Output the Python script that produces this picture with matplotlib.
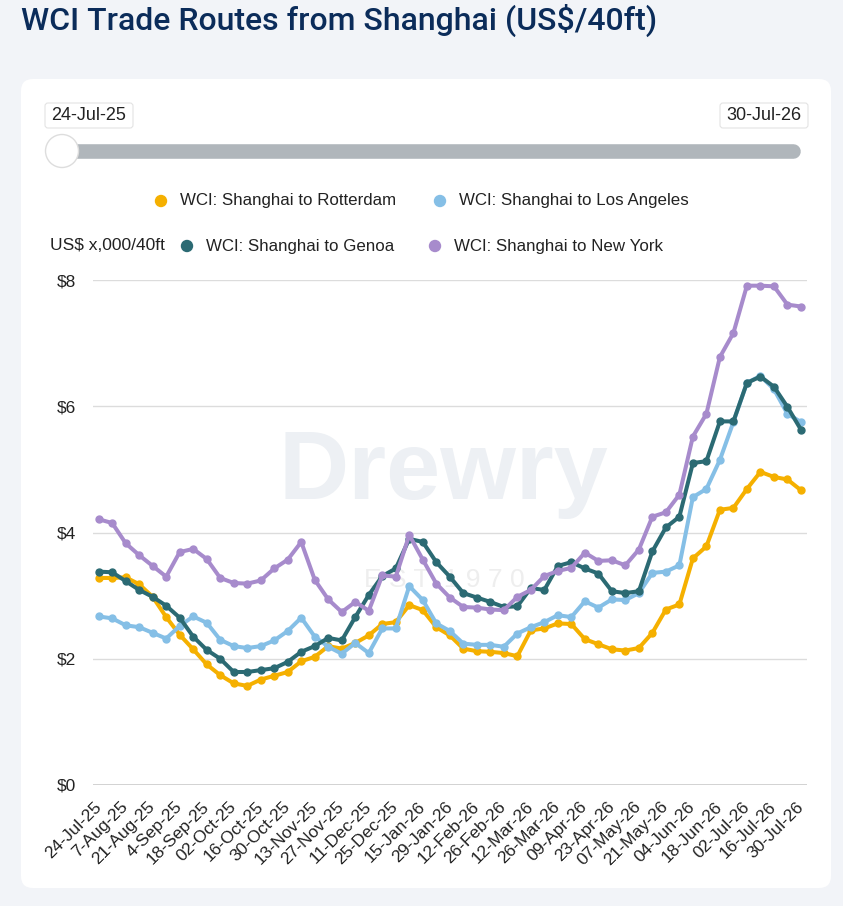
import matplotlib
matplotlib.use("Agg")
import matplotlib.pyplot as plt
import matplotlib.transforms as mtransforms
from matplotlib.patches import FancyBboxPatch, Circle

plt.rcParams['font.family'] = ['Liberation Sans', 'DejaVu Sans']

# weekly WCI spot rates, US$ x,000 per 40ft
series_names = [
    "WCI: Shanghai to Rotterdam",
    "WCI: Shanghai to Los Angeles",
    "WCI: Shanghai to Genoa",
    "WCI: Shanghai to New York",
]
series_colors = ["#f5b000", "#85bfe6", "#2b6a73", "#a78bcc"]

rotterdam = [3.28, 3.28, 3.29, 3.18, 2.98, 2.66, 2.38, 2.15, 1.91, 1.74, 1.61, 1.57, 1.67,
             1.73, 1.79, 1.96, 2.03, 2.20, 2.16, 2.25, 2.37, 2.55, 2.58, 2.85, 2.77, 2.50,
             2.37, 2.16, 2.12, 2.11, 2.09, 2.04, 2.45, 2.48, 2.56, 2.55, 2.31, 2.23, 2.15,
             2.13, 2.17, 2.41, 2.78, 2.86, 3.59, 3.78, 4.36, 4.39, 4.69, 4.96, 4.88, 4.84,
             4.67]
los_angeles = [2.67, 2.64, 2.53, 2.50, 2.41, 2.32, 2.52, 2.67, 2.57, 2.30, 2.20, 2.17, 2.20,
               2.29, 2.44, 2.65, 2.35, 2.19, 2.08, 2.25, 2.09, 2.48, 2.48, 3.15, 2.93, 2.56,
               2.44, 2.24, 2.22, 2.22, 2.19, 2.40, 2.50, 2.58, 2.69, 2.66, 2.91, 2.81, 2.94,
               2.93, 3.04, 3.36, 3.38, 3.48, 4.56, 4.69, 5.15, 5.75, 6.37, 6.48, 6.27, 5.88,
               5.75]
genoa = [3.38, 3.37, 3.23, 3.09, 2.98, 2.84, 2.65, 2.35, 2.14, 2.00, 1.79, 1.79, 1.82,
         1.85, 1.95, 2.11, 2.20, 2.33, 2.29, 2.66, 3.01, 3.31, 3.43, 3.90, 3.85, 3.53,
         3.30, 3.04, 2.97, 2.90, 2.82, 2.83, 3.12, 3.09, 3.47, 3.53, 3.43, 3.35, 3.07,
         3.04, 3.07, 3.70, 4.08, 4.25, 5.10, 5.13, 5.76, 5.76, 6.37, 6.47, 6.31, 5.99,
         5.63]
new_york = [4.21, 4.15, 3.83, 3.64, 3.47, 3.30, 3.69, 3.74, 3.58, 3.28, 3.20, 3.19, 3.24,
            3.43, 3.57, 3.85, 3.25, 2.94, 2.74, 2.90, 2.76, 3.32, 3.30, 3.96, 3.57, 3.19,
            2.97, 2.82, 2.81, 2.78, 2.77, 2.98, 3.09, 3.31, 3.39, 3.44, 3.68, 3.55, 3.56,
            3.48, 3.73, 4.25, 4.32, 4.60, 5.52, 5.88, 6.78, 7.16, 7.91, 7.91, 7.90, 7.61,
            7.58]

# every second week is labelled
tick_labels = ["24-Jul-25", "7-Aug-25", "21-Aug-25", "4-Sep-25", "18-Sep-25", "02-Oct-25",
               "16-Oct-25", "30-Oct-25", "13-Nov-25", "27-Nov-25", "11-Dec-25", "25-Dec-25",
               "15-Jan-26", "29-Jan-26", "12-Feb-26", "26-Feb-26", "12-Mar-26", "26-Mar-26",
               "09-Apr-26", "23-Apr-26", "07-May-26", "21-May-26", "04-Jun-26", "18-Jun-26",
               "02-Jul-26", "16-Jul-26", "30-Jul-26"]
y_ticks = [0, 2, 4, 6, 8]

W, H = 843, 906
fig = plt.figure(figsize=(W / 100, H / 100), dpi=100, facecolor="#f2f4f8")

# background layer in pixel coordinates (card, slider, legend, title)
bg = fig.add_axes([0, 0, 1, 1], zorder=0)
bg.set_xlim(0, W)
bg.set_ylim(H, 0)
bg.axis("off")

bg.text(21, 30, "WCI Trade Routes from Shanghai (US$/40ft)", fontsize=23, color="#0b2c5a",
        family=["Roboto", "DejaVu Sans"], fontweight="medium", va="baseline")

bg.add_patch(FancyBboxPatch((21, 79), 810, 809, boxstyle="round,pad=0,rounding_size=12",
                            fc="white", ec="none"))

# range slider
for x0, label in [(45, tick_labels[0]), (720, tick_labels[-1])]:
    bg.add_patch(FancyBboxPatch((x0, 103), 88, 25, boxstyle="round,pad=0,rounding_size=3",
                                fc="white", ec="#e3e3e3", lw=0.8))
    bg.text(x0 + 44, 116, label, fontsize=13, ha="center", va="center", color="#222222")
bg.plot([62, 793], [151, 151], color="#b0b6bb", lw=10.5, solid_capstyle="round", zorder=2)
bg.add_patch(Circle((62, 151), 16.5, fc="white", ec="#dddddd", lw=1, zorder=3))

# legend
legend_pos = [(161, 201), (440, 201), (187, 246), (435, 246)]
for (lx, ly), name, color in zip(legend_pos, series_names, series_colors):
    bg.add_patch(Circle((lx, ly), 6.2, fc=color, ec="none"))
    bg.text(lx + 19, ly, name, fontsize=12.2, va="center", color="#222222")
bg.text(50, 245, "US$ x,000/40ft", fontsize=12.5, va="center", color="#222222")

# watermark
bg.text(443, 474, "Drewry", fontsize=70, fontweight="bold", color="#edf0f4",
        ha="center", va="center")
bg.text(444, 580, "E S T  1 9 7 0", fontsize=19, color="#eeeeee", ha="center", va="center")

# main chart
ax = fig.add_axes([93 / W, 1 - 785 / H, 714 / W, 505 / H], zorder=1)
ax.patch.set_alpha(0)
x = list(range(len(rotterdam)))
for values, name, color in zip([rotterdam, los_angeles, genoa, new_york], series_names,
                               series_colors):
    ax.plot(x, values, color=color, lw=2.9, marker="o", ms=5, label=name,
            solid_joinstyle="round", clip_on=False)

ax.set_xlim(-0.42, 52.45)
ax.set_ylim(0, 8)
ax.set_yticks(y_ticks)
ax.set_yticklabels([f"${v}" for v in y_ticks], fontsize=12.5, color="#222222")
ax.grid(axis="y", color="#dcdcdc", lw=1)
ax.set_axisbelow(True)
ax.set_xticks(x[::2])
ax.set_xticklabels(tick_labels, rotation=45, ha="right", va="center",
                   rotation_mode="anchor", fontsize=12.5, color="#222222")
shift = mtransforms.ScaledTranslation(6 / 100, 0, fig.dpi_scale_trans)
for lbl in ax.get_xticklabels():
    lbl.set_transform(lbl.get_transform() + shift)
ax.tick_params(axis="x", length=0, pad=14)
ax.tick_params(axis="y", length=0, pad=12)
for s in ax.spines.values():
    s.set_visible(False)
ax.axhline(0, color="#c8c8c8", lw=1.2, zorder=0)

fig.savefig("out.png", dpi=100, facecolor=fig.get_facecolor())
